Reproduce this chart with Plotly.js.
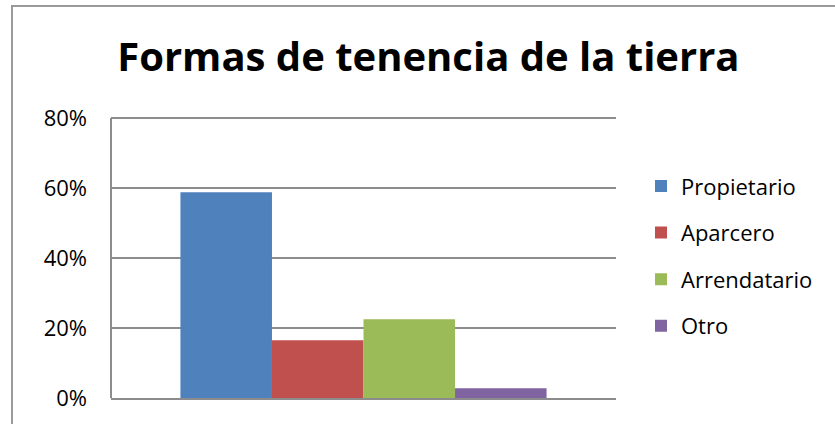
<!DOCTYPE html>
<html>
<head>
<meta charset="utf-8">
<script src="https://cdn.plot.ly/plotly-3.0.1.min.js"></script>
<style>
html,body{margin:0;padding:0;background:#fff;overflow:hidden;}
#wrap{position:relative;width:835px;height:424px;}
#chart{position:absolute;left:0;top:0;width:835px;height:424px;}
#frame{position:absolute;left:11px;top:5px;width:840px;height:430px;border-left:2px solid #9a9a9a;border-top:2px solid #9a9a9a;pointer-events:none;box-sizing:border-box;}
</style>
</head>
<body>
<div id="wrap"><div id="chart"></div><div id="frame"></div></div>
<script>
var categories = [''];
var seriesNames = ['Propietario', 'Aparcero', 'Arrendatario', 'Otro'];
var seriesValues = [0.588, 0.165, 0.225, 0.028];
var seriesColors = ['#4F81BD', '#C0504D', '#9BBB59', '#8064A2'];
var yTickValues = [0, 0.2, 0.4, 0.6, 0.8];
var yTickLabels = ['0%', '20%', '40%', '60%', '80%'];

var traces = seriesNames.map(function (name, i) {
  return {
    type: 'bar',
    name: name,
    x: categories,
    y: [seriesValues[i]],
    marker: { color: seriesColors[i], line: { width: 0 } },
    legendgroup: 'g' + i,
    hoverinfo: 'none'
  };
});

var FONT = 'Open Sans, Liberation Sans, sans-serif';
var layout = {
  width: 835,
  height: 424,
  margin: { l: 111, r: 219, t: 116, b: 26, pad: 0 },
  paper_bgcolor: '#ffffff',
  plot_bgcolor: '#ffffff',
  font: { family: FONT, color: '#000000', size: 22 },
  title: {
    text: 'Formas de tenencia de la tierra',
    font: { family: FONT, size: 40, weight: 'bold', color: '#000000' },
    xref: 'container', yref: 'container',
    x: 0.513, xanchor: 'center',
    y: 0.866, yanchor: 'middle'
  },
  barmode: 'group',
  bargap: 0.275,
  bargroupgap: 0,
  xaxis: {
    type: 'category',
    showticklabels: false,
    showgrid: false,
    zeroline: false,
    showline: true,
    linecolor: '#8c8c8c',
    linewidth: 2,
    ticks: ''
  },
  yaxis: {
    range: [0, 0.806],
    tickvals: yTickValues,
    ticktext: yTickLabels,
    showgrid: true,
    gridcolor: '#8c8c8c',
    gridwidth: 2,
    zeroline: false,
    showline: false,
    ticks: '',
    ticklabelstandoff: 23,
    tickfont: { family: FONT, size: 22, color: '#000000' }
  },
  shapes: [{
    type: 'line', xref: 'paper', yref: 'y',
    x0: 0, x1: 0, y0: 0, y1: 0.8,
    line: { color: '#8c8c8c', width: 2 }
  }],
  showlegend: true,
  legend: {
    x: 641 / 835, xref: 'container', xanchor: 'left',
    y: 0.503, yanchor: 'middle',
    traceorder: 'grouped',
    tracegroupgap: 15,
    font: { family: FONT, size: 22, color: '#000000' },
    bgcolor: 'rgba(0,0,0,0)',
    borderwidth: 0
  }
};

Plotly.newPlot('chart', traces, layout, { staticPlot: true, displayModeBar: false });
</script>
</body>
</html>
